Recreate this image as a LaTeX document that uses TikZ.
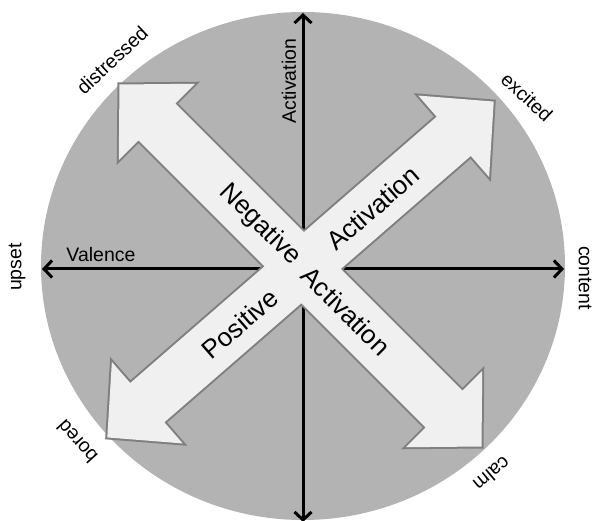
\documentclass[tikz,border=0pt]{standalone}
\usepackage{fontspec}
\setmainfont{Liberation Sans}
\usetikzlibrary{arrows.meta}
\definecolor{discgray}{HTML}{B3B3B3}
\definecolor{arrowfill}{HTML}{F0F0F0}
\definecolor{arrowline}{HTML}{7F7F7F}
\begin{document}
\begin{tikzpicture}[x=1pt,y=-1pt,
  axis/.style={line width=3pt, -{Straight Barb[length=8pt,width=17pt]}},
  bigoutline/.style={draw=arrowline, line width=4pt, line join=miter},
  bigfill/.style={fill=arrowfill},
  smalllabel/.style={font=\fontsize{19.5}{20}\selectfont, inner sep=0pt},
  biglabel/.style={font=\fontsize{26}{28}\selectfont, inner sep=0pt},
  dblarrow/.pic={\path[pic actions] (256,0) -- (203,54) -- (203,26) -- (-203,26) -- (-203,54) -- (-256,0) -- (-203,-54) -- (-203,-26) -- (203,-26) -- (203,-54) -- cycle;}]
\useasboundingbox (0,0) rectangle (595,521);
% disc
\fill[discgray] (303,266) ellipse [x radius=262, y radius=254];
% axes
\coordinate (o) at (303,269);
\coordinate (axtop) at (303,13);
\coordinate (axbot) at (303,522);
\coordinate (axleft) at (42,269);
\coordinate (axright) at (564,269);
\draw[axis] (o) -- (axtop);
\draw[axis] (o) -- (axbot);
\draw[axis] (o) -- (axleft);
\draw[axis] (o) -- (axright);
% big crossing arrows: outlines then fills
\pic[bigoutline, shift={(300.5,269.5)}, rotate=41] {dblarrow};
\pic[bigoutline, shift={(300.5,265.5)}, rotate=-45] {dblarrow};
\pic[bigfill, shift={(300.5,269.5)}, rotate=41] {dblarrow};
\pic[bigfill, shift={(300.5,265.5)}, rotate=-45] {dblarrow};
% labels
\node[smalllabel, rotate=90] (lblactv) at (289,81) {Activation};
\node[smalllabel] (lblval) at (101,255) {Valence};
\node[smalllabel, rotate=43] (lbldis) at (112,60) {distressed};
\node[smalllabel, rotate=-43] (lblexc) at (527,97) {excited};
\node[smalllabel, rotate=-90] (lblcon) at (585,278) {content};
\node[smalllabel, rotate=90] (lblups) at (17,267) {upset};
\node[smalllabel, rotate=132] (lblbor) at (77,442) {bored};
\node[smalllabel, rotate=220] (lblcalm) at (492,474) {calm};
\node[biglabel, rotate=-45] (lblneg) at (260,225) {Negative};
\node[biglabel, rotate=-45] (lblact2) at (346,311) {Activation};
\node[biglabel, rotate=41] (lblact1) at (373,208) {Activation};
\node[biglabel, rotate=41] (lblpos) at (240,324) {Positive};
\end{tikzpicture}
\end{document}
